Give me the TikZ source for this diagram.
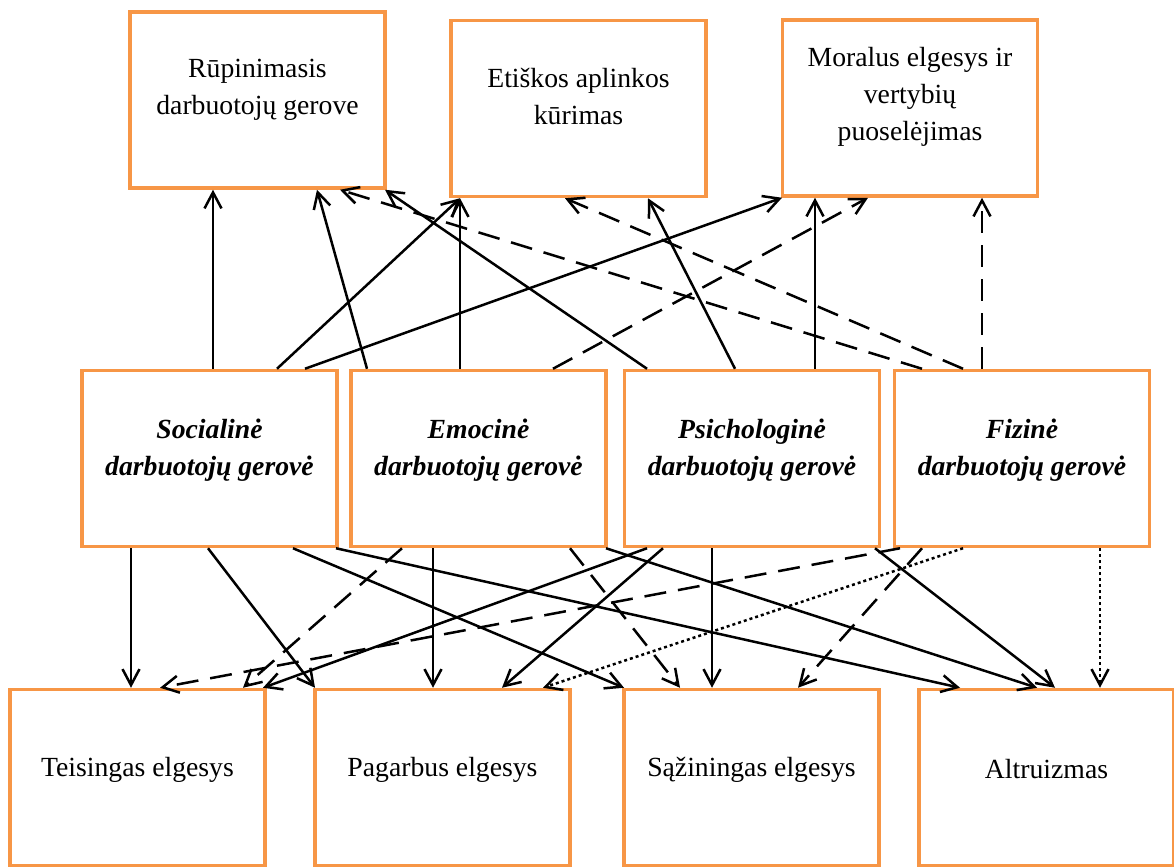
\documentclass[tikz,border=0pt]{standalone}
\usepackage{fontspec}
\setmainfont{Liberation Serif}
\usetikzlibrary{arrows.meta}
\definecolor{boxorange}{RGB}{247,150,70}
\tikzstyle{box}=[draw=boxorange, line width=3.5pt, minimum width=255pt, minimum height=176pt, inner sep=0pt]
\tikzstyle{boxtext}=[align=center, font=\fontsize{27.7pt}{37pt}\selectfont]
\tikzstyle{wellbeing}=[align=center, font=\fontsize{27.7pt}{37pt}\selectfont\bfseries\itshape]
\tikzstyle{link}=[-{Straight Barb[length=16pt,width=17pt]}, line width=2.5pt]
\tikzstyle{weak}=[link, dash pattern=on 22pt off 12pt]
\tikzstyle{faint}=[link, dash pattern=on 3pt off 3pt]

\begin{document}
\begin{tikzpicture}[x=1pt, y=-1pt]
\useasboundingbox (0,0) rectangle (1174,867);
% top row
\node[box] at (257.5, 100) (t1) {};
\node[box] at (578.5, 108.5) (t2) {};
\node[box] at (910, 108) (t3) {};
\node[boxtext] at ([yshift=10pt]t1.center) (t1txt) {Rūpinimasis\\darbuotojų gerove};
\node[boxtext] at ([yshift=12pt]t2.center) (t2txt) {Etiškos aplinkos\\kūrimas};
\node[boxtext] at ([yshift=11pt]t3.center) (t3txt) {Moralus elgesys ir\\vertybių\\puoselėjimas};
% middle row
\node[box] at (209.5, 458.5) (m1) {};
\node[box] at (478.5, 458.5) (m2) {};
\node[box] at (752, 458.5) (m3) {};
\node[box] at (1022, 458.5) (m4) {};
\node[wellbeing] at ([yshift=8pt]m1.center) (m1txt) {Socialinė\\darbuotojų gerovė};
\node[wellbeing] at ([yshift=8pt]m2.center) (m2txt) {Emocinė\\darbuotojų gerovė};
\node[wellbeing] at ([yshift=8pt]m3.center) (m3txt) {Psichologinė\\darbuotojų gerovė};
\node[wellbeing] at ([yshift=8pt]m4.center) (m4txt) {Fizinė\\darbuotojų gerovė};
% bottom row
\node[box] at (137.5, 777.5) (b1) {};
\node[box] at (442.5, 777.5) (b2) {};
\node[box] at (751.5, 777.5) (b3) {};
\node[box] at (1046.5, 777.5) (b4) {};
\node[boxtext] at ([yshift=8pt]b1.center) (b1txt) {Teisingas elgesys};
\node[boxtext] at ([yshift=8pt]b2.center) (b2txt) {Pagarbus elgesys};
\node[boxtext] at ([yshift=8pt]b3.center) (b3txt) {Sąžiningas elgesys};
\node[boxtext] at ([yshift=8pt]b4.center) (b4txt) {Altruizmas};
% upward links
\draw[link] ([xshift=3.5pt]m1.north) -- ([xshift=-44.5pt]t1.south);
\draw[link] ([xshift=-111.5pt]m2.north) -- ([xshift=59.5pt]t1.south);
\draw[link] ([xshift=-105pt]m3.north) -- ([xshift=127.5pt]t1.south);
\draw[weak] ([xshift=-100pt]m4.north) -- ([xshift=82.5pt]t1.south);
\draw[link] ([xshift=67.5pt]m1.north) -- ([xshift=-118.5pt]t2.south);
\draw[link] ([xshift=-18.5pt]m2.north) -- ([xshift=-118.5pt]t2.south);
\draw[link] ([xshift=-17pt]m3.north) -- ([xshift=69.5pt]t2.south);
\draw[weak] ([xshift=-59pt]m4.north) -- ([xshift=-13.5pt]t2.south);
\draw[link] ([xshift=95.5pt]m1.north) -- ([xshift=-128pt]t3.south);
\draw[weak] ([xshift=74.5pt]m2.north) -- ([xshift=-42pt]t3.south);
\draw[link] ([xshift=63pt]m3.north) -- ([xshift=-95pt]t3.south);
\draw[weak] ([xshift=-40pt]m4.north) -- ([xshift=72pt]t3.south);
% downward links
\draw[link] ([xshift=-78.5pt]m1.south) -- ([xshift=-6.5pt]b1.north);
\draw[link] ([xshift=-1.5pt]m1.south) -- ([xshift=-127.5pt]b2.north);
\draw[link] ([xshift=83.5pt]m1.south) -- ([xshift=-127.5pt]b3.north);
\draw[link] ([xshift=126.5pt]m1.south) -- ([xshift=-86.5pt]b4.north);
\draw[weak] ([xshift=-76.5pt]m2.south) -- ([xshift=105.5pt]b1.north);
\draw[link] ([xshift=-45.5pt]m2.south) -- ([xshift=-9.5pt]b2.north);
\draw[weak] ([xshift=91.5pt]m2.south) -- ([xshift=-71.5pt]b3.north);
\draw[link] ([xshift=127.5pt]m2.south) -- ([xshift=-9.5pt]b4.north);
\draw[link] ([xshift=-105pt]m3.south) -- ([xshift=125.5pt]b1.north);
\draw[link] ([xshift=-89pt]m3.south) -- ([xshift=59.5pt]b2.north);
\draw[link] ([xshift=-40pt]m3.south) -- ([xshift=-39.5pt]b3.north);
\draw[link] ([xshift=123pt]m3.south) -- ([xshift=8.5pt]b4.north);
\draw[weak] ([xshift=-122pt]m4.south) -- ([xshift=22.5pt]b1.north);
\draw[weak] ([xshift=-100pt]m4.south) -- ([xshift=46.5pt]b3.north);
\draw[faint] ([xshift=-59pt]m4.south) -- ([xshift=100.5pt]b2.north);
\draw[faint] ([xshift=78pt]m4.south) -- ([xshift=53.5pt]b4.north);
\end{tikzpicture}
\end{document}
